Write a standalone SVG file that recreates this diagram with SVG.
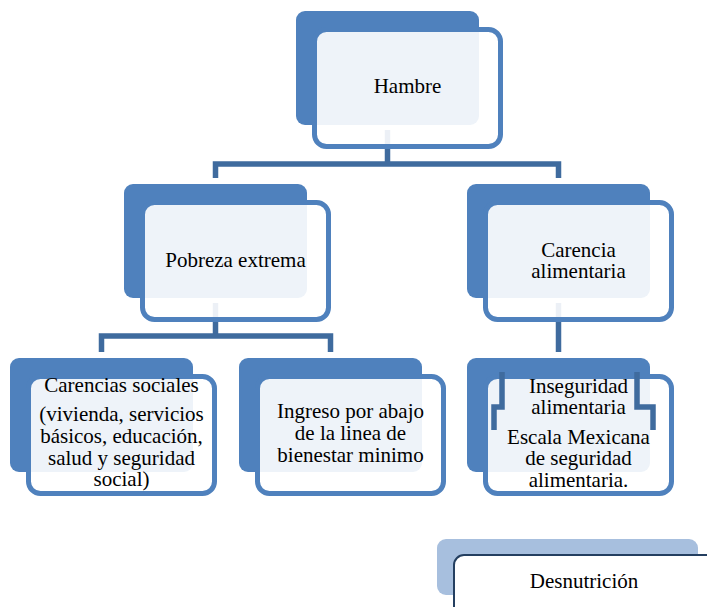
<svg xmlns="http://www.w3.org/2000/svg" width="707" height="607" viewBox="0 0 707 607">
<style>
.back{fill:#4f81bd}
.front{fill:#ffffff;fill-opacity:0.9;stroke:#4f81bd;stroke-width:5}
.conn{fill:none;stroke:#3f6b9e;stroke-width:5.5}
.t{font-family:'Liberation Serif','Tinos','Times New Roman','DejaVu Serif',serif;font-size:21px;fill:#000000;text-anchor:middle}
</style>
<rect width="707" height="607" fill="#ffffff"/>
<g id="back-layer">
<rect class="back" x="296" y="11" width="183" height="114" rx="9"/>
<rect class="back" x="124" y="184" width="183" height="114" rx="9"/>
<rect class="back" x="467" y="184" width="183" height="114" rx="9"/>
<rect class="back" x="10" y="358" width="183" height="114" rx="9"/>
<rect class="back" x="239" y="358" width="183" height="114" rx="9"/>
<rect class="back" x="467" y="358" width="183" height="114" rx="9"/>
</g>
<g id="connectors">
<path class="conn" d="M387.5 130V164"/>
<path class="conn" d="M215.5 178V164H558.5V178"/>
<path class="conn" d="M215.5 303V336"/>
<path class="conn" d="M101.5 352V336H330.5V352"/>
<path class="conn" d="M558.5 303V352"/>
</g>
<g id="hambre">
<rect class="front" x="314.5" y="29.5" width="186" height="117" rx="12"/>
<text class="t" x="407.5" y="93" font-family="Liberation Serif">Hambre</text>
</g>
<g id="pobreza">
<rect class="front" x="142.5" y="202.5" width="186" height="117" rx="12"/>
<text class="t" x="235.5" y="267">Pobreza extrema</text>
</g>
<g id="carencia">
<rect class="front" x="485.5" y="202.5" width="186" height="117" rx="12"/>
<text class="t" x="578.5" y="257">Carencia</text>
<text class="t" x="578.5" y="278">alimentaria</text>
</g>
<g id="carencias-sociales">
<rect class="front" x="28.5" y="376.5" width="186" height="117" rx="12"/>
<text class="t" x="121.5" y="392">Carencias sociales</text>
<text class="t" x="121.5" y="421">(vivienda, servicios</text>
<text class="t" x="121.5" y="443">básicos, educación,</text>
<text class="t" x="121.5" y="465">salud y seguridad</text>
<text class="t" x="121.5" y="486">social)</text>
</g>
<g id="ingreso">
<rect class="front" x="257.5" y="376.5" width="186" height="117" rx="12"/>
<text class="t" x="350.5" y="418">Ingreso por abajo</text>
<text class="t" x="350.5" y="440">de la linea de</text>
<text class="t" x="350.5" y="462">bienestar minimo</text>
</g>
<g id="inseguridad">
<rect class="front" x="485.5" y="376.5" width="186" height="117" rx="12"/>
<g id="inseguridad-connectors">
<path class="conn" d="M502 372V407H494V430"/>
<path class="conn" d="M637 372V407H653V430"/>
</g>
<text class="t" x="578.5" y="393">Inseguridad</text>
<text class="t" x="578.5" y="414">alimentaria</text>
<text class="t" x="578.5" y="444">Escala Mexicana</text>
<text class="t" x="578.5" y="465">de seguridad</text>
<text class="t" x="578.5" y="487">alimentaria.</text>
</g>
<g id="desnutricion">
<rect x="437" y="539" width="261" height="56" rx="9" fill="#a7bfde"/>
<rect x="454" y="555" width="280" height="80" rx="10" fill="#ffffff" stroke="#243f60" stroke-width="2"/>
<text class="t" x="584" y="588">Desnutrición</text>
</g>
</svg>
